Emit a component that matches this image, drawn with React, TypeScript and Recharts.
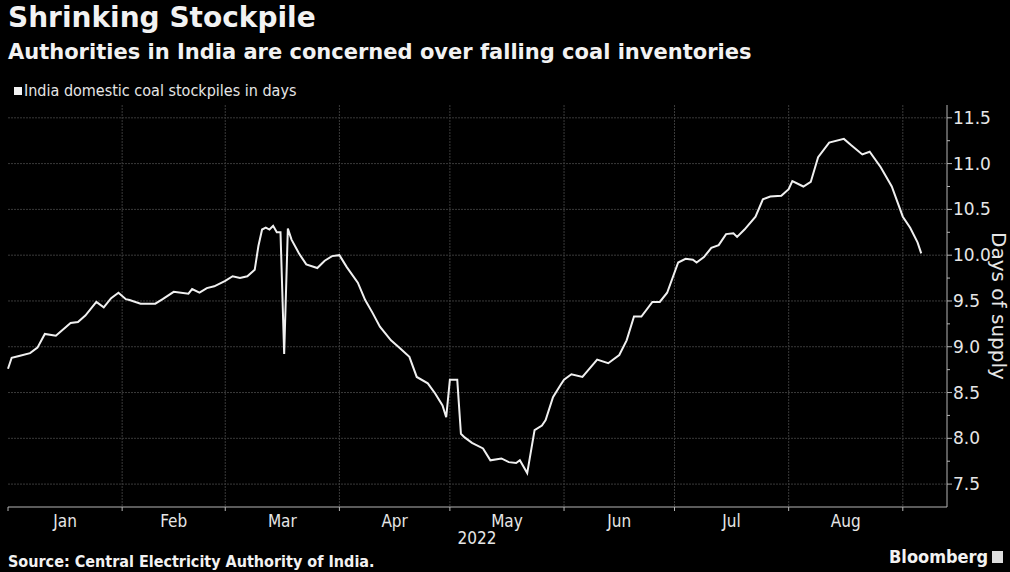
import { LineChart, Line, XAxis, YAxis, CartesianGrid } from "recharts";

// daily reading dates (2022) and stockpile in days of supply
const dates = [
  "01-01", "01-02", "01-04", "01-07", "01-09", "01-11", "01-14", "01-18", "01-20", "01-22",
  "01-25", "01-27", "01-29", "01-31", "02-02", "02-03", "02-06", "02-10", "02-12", "02-15",
  "02-19", "02-20", "02-22", "02-24", "02-26", "03-01", "03-03", "03-05", "03-07", "03-09",
  "03-10", "03-11", "03-12", "03-13", "03-14", "03-15", "03-16", "03-17", "03-18", "03-19",
  "03-21", "03-23", "03-26", "03-28", "03-30", "04-01", "04-03", "04-06", "04-08", "04-10",
  "04-12", "04-15", "04-17", "04-20", "04-22", "04-25", "04-27", "04-29", "04-30", "05-01",
  "05-03", "05-04", "05-05", "05-07", "05-10", "05-12", "05-15", "05-17", "05-19", "05-20",
  "05-22", "05-24", "05-26", "05-27", "05-29", "05-31", "06-01", "06-03", "06-06", "06-10",
  "06-13", "06-16", "06-18", "06-20", "06-22", "06-25", "06-27", "06-29", "07-02", "07-04",
  "07-06", "07-07", "07-09", "07-11", "07-13", "07-15", "07-17", "07-18", "07-20", "07-23",
  "07-25", "07-27", "07-30", "08-01", "08-02", "08-05", "08-07", "08-09", "08-12", "08-16",
  "08-18", "08-21", "08-23", "08-26", "08-29", "09-01", "09-03", "09-05", "09-06",
];
const stockpileDays = [
  8.76, 8.88, 8.9, 8.93, 8.99, 9.14, 9.12, 9.26, 9.27, 9.34,
  9.49, 9.43, 9.53, 9.59, 9.52, 9.51, 9.47, 9.47, 9.52, 9.6,
  9.58, 9.63, 9.59, 9.64, 9.66, 9.72, 9.77, 9.75, 9.77, 9.84,
  10.1, 10.28, 10.3, 10.28, 10.32, 10.25, 10.25, 8.92, 10.29, 10.17,
  10.02, 9.9, 9.86, 9.94, 9.99, 10.0, 9.87, 9.7, 9.51, 9.37,
  9.22, 9.07, 9.0, 8.89, 8.67, 8.6, 8.49, 8.36, 8.23, 8.64,
  8.64, 8.05, 8.01, 7.95, 7.89, 7.76, 7.78, 7.74, 7.73, 7.76,
  7.62, 8.09, 8.14, 8.2, 8.45, 8.58, 8.64, 8.7, 8.67, 8.86,
  8.82, 8.91, 9.07, 9.33, 9.33, 9.49, 9.49, 9.59, 9.92, 9.96,
  9.95, 9.92, 9.98, 10.08, 10.11, 10.23, 10.24, 10.2, 10.28, 10.42,
  10.61, 10.64, 10.65, 10.72, 10.81, 10.75, 10.8, 11.07, 11.23, 11.27,
  11.2, 11.1, 11.13, 10.96, 10.75, 10.42, 10.3, 10.14, 10.02,
];

const monthLabels = ["Jan", "Feb", "Mar", "Apr", "May", "Jun", "Jul", "Aug"];
const monthStarts = ["01-01", "02-01", "03-01", "04-01", "05-01", "06-01", "07-01", "08-01", "09-01"];
const yLabels = [7.5, 8.0, 8.5, 9.0, 9.5, 10.0, 10.5, 11.0, 11.5];
const yMinorTicks = [7.75, 8.25, 8.75, 9.25, 9.75, 10.25, 10.75, 11.25];

const ts = (md: string) => {
  const [m, d] = md.split("-").map(Number);
  return Date.UTC(2022, m - 1, d);
};

const data = dates.map((d, i) => ({ t: ts(d), value: stockpileDays[i] }));
const startTs = monthStarts.map(ts);
const midTs = monthLabels.map((_, i) => (startTs[i] + startTs[i + 1]) / 2);
const xDomain = [ts("01-01"), ts("09-13")];
const yTicks = [...yLabels, ...yMinorTicks].sort((a, b) => a - b);

const AXIS = "#b5b5b5";
const TEXT = "#e6e6e6";
const SANS = '"DejaVu Sans", Verdana, sans-serif';
const NARROW = '"DejaVu Sans Condensed", "Liberation Sans Narrow", "DejaVu Sans", sans-serif';

function XTick(props: any) {
  const { x, y, payload } = props;
  const i = midTs.indexOf(payload.value);
  if (i < 0) {
    return <line x1={x} x2={x} y1={y} y2={y + 4} stroke={AXIS} strokeWidth={1} />;
  }
  return (
    <text x={x} y={y + 20} textAnchor="middle" fill={TEXT} fontSize={17} fontFamily={NARROW}>
      {monthLabels[i]}
    </text>
  );
}

function YTick(props: any) {
  const { x, y, payload } = props;
  const v = payload.value as number;
  const major = yLabels.includes(v);
  return (
    <g>
      <line x1={x} x2={x + (major ? 5 : 3)} y1={y} y2={y} stroke={AXIS} strokeWidth={1} />
      {major && (
        <text x={x + 6} y={y + 6} fill={TEXT} fontSize={17} fontFamily={SANS}>
          {v.toFixed(1)}
        </text>
      )}
    </g>
  );
}

export default function App() {
  return (
    <div
      style={{
        position: "absolute",
        left: 0,
        top: 0,
        width: 1010,
        height: 572,
        background: "#000",
        color: TEXT,
        overflow: "hidden",
      }}
    >
      <div style={{ position: "absolute", left: 8, top: 1, fontFamily: SANS, fontWeight: "bold", fontSize: 28, color: "#f2f2f2" }}>
        Shrinking Stockpile
      </div>
      <div style={{ position: "absolute", left: 8, top: 40, fontFamily: SANS, fontWeight: "bold", fontSize: 21, color: "#f2f2f2" }}>
        Authorities in India are concerned over falling coal inventories
      </div>
      <div style={{ position: "absolute", left: 14, top: 81, fontFamily: NARROW, fontSize: 16, color: TEXT, display: "flex", alignItems: "center" }}>
        <span style={{ display: "inline-block", width: 8, height: 8, background: "#f2f2f2", marginRight: 2 }} />
        India domestic coal stockpiles in days
      </div>

      <LineChart width={1010} height={572} data={data} margin={{ top: 105, right: 0, bottom: 35, left: 8 }}>
        <CartesianGrid
          stroke="#3a3a3a"
          strokeDasharray="2 1"
          horizontalValues={yLabels}
          verticalValues={startTs.slice(1)}
        />
        <XAxis
          dataKey="t"
          type="number"
          domain={xDomain}
          ticks={[...startTs, ...midTs]}
          interval={0}
          height={30}
          tickSize={0}
          tickMargin={0}
          tickLine={false}
          axisLine={{ stroke: AXIS }}
          tick={<XTick />}
        />
        <YAxis
          orientation="right"
          type="number"
          domain={[7.25, 11.64]}
          ticks={yTicks}
          interval={0}
          width={63}
          tickSize={0}
          tickMargin={0}
          tickLine={false}
          axisLine={{ stroke: AXIS }}
          tick={<YTick />}
        />
        <Line
          type="linear"
          dataKey="value"
          stroke="#f0f0f0"
          strokeWidth={2}
          dot={false}
          isAnimationActive={false}
        />
      </LineChart>

      <div style={{ position: "absolute", left: 477, top: 528, transform: "translateX(-50%)", fontFamily: NARROW, fontSize: 17, color: TEXT }}>2022</div>
      <div
        style={{
          position: "absolute",
          left: 999,
          top: 306,
          transform: "translate(-50%, -50%) rotate(90deg)",
          fontFamily: SANS,
          fontSize: 20,
          color: TEXT,
          whiteSpace: "nowrap",
        }}
      >
        Days of supply
      </div>
      <div style={{ position: "absolute", left: 8, top: 552, fontFamily: NARROW, fontWeight: "bold", fontSize: 16, color: "#f2f2f2" }}>
        Source: Central Electricity Authority of India.
      </div>
      <div style={{ position: "absolute", left: 889, top: 546, fontFamily: NARROW, fontWeight: "bold", fontSize: 18, color: "#f2f2f2", display: "flex", alignItems: "center" }}>
        Bloomberg
        <span style={{ display: "inline-block", width: 11, height: 12, background: "#ddd", marginLeft: 4 }} />
      </div>
    </div>
  );
}
